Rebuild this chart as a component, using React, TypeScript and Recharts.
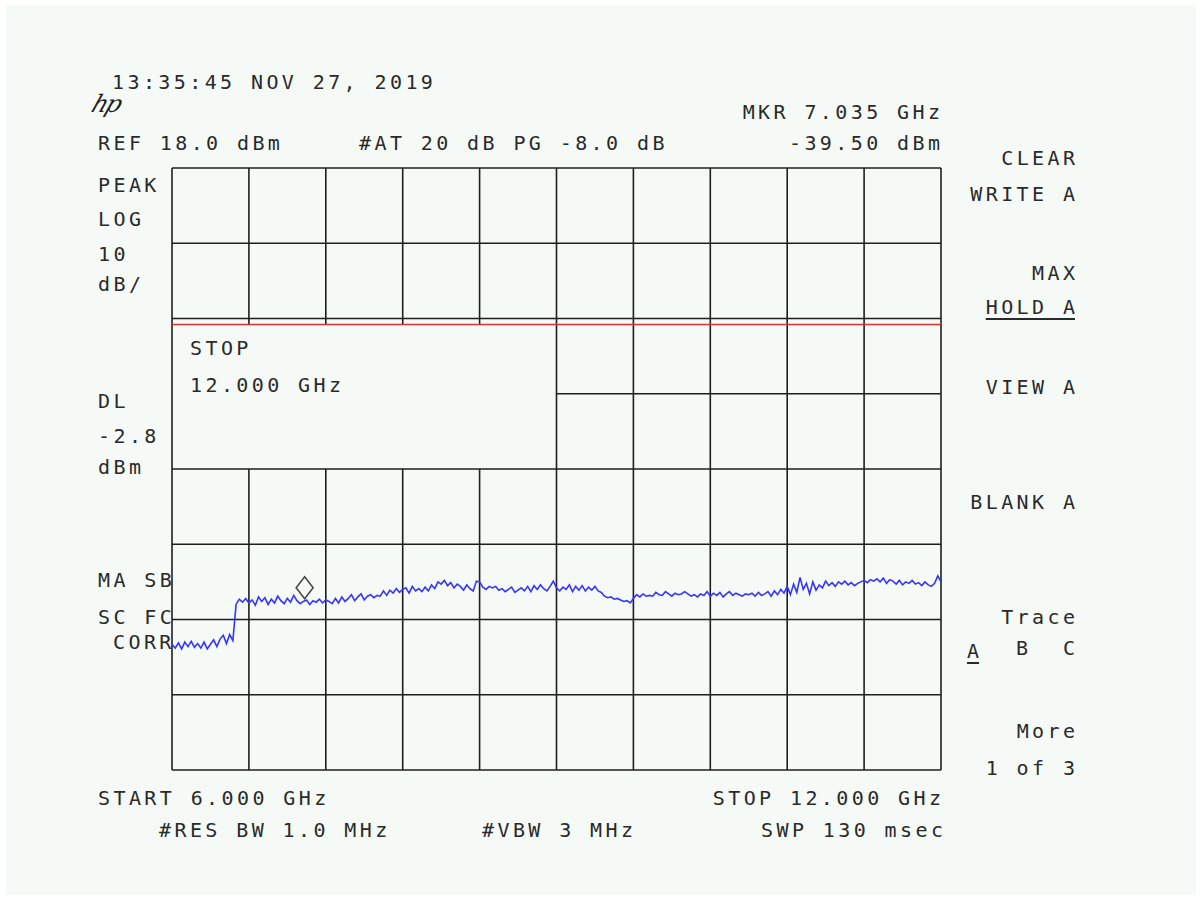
import React from 'react';
import { LineChart, Line, XAxis, YAxis, ReferenceLine, ReferenceDot } from 'recharts';

// Sweep settings
const START_GHZ = 6.0;
const STOP_GHZ = 12.0;
const STEP_GHZ = 0.025;
const REF_DBM = 18.0;
const BOTTOM_DBM = -62.0;
const DISPLAY_LINE_DBM = -2.8;
const MARKER_GHZ = 7.035;
const MARKER_DBM = -39.5;

// Grid divisions (10 x 8)
const xGrid = [6.0, 6.6, 7.2, 7.8, 8.4, 9.0, 9.6, 10.2, 10.8, 11.4, 12.0];
const yGrid = [18, 8, -2, -12, -22, -32, -42, -52, -62];

// Trace A (dBm), one value per sweep step from 6.000 GHz to 12.000 GHz
const traceA = [
  -45.3, -45.8, -45.1, -45.9, -45.0, -45.6, -44.9, -45.7, -45.2, -45.8,
  -45.0, -45.9, -45.3, -44.7, -45.6, -44.6, -44.1, -45.2, -44.0, -44.8,
  -40.0, -39.3, -39.7, -39.2, -39.8, -39.4, -40.1, -39.0, -39.6, -39.1,
  -40.0, -39.3, -39.8, -38.9, -39.5, -39.9, -39.2, -39.7, -38.8, -39.5,
  -39.9, -39.6, -39.4, -40.0, -39.5, -39.7, -39.3, -39.8, -39.4, -39.6,
  -39.9, -39.2, -39.8, -39.0, -39.6, -39.2, -38.7, -39.5, -39.0, -38.6,
  -39.4, -38.9, -38.7, -39.1, -38.8, -38.9, -38.2, -38.8, -38.1, -38.5,
  -37.9, -38.4, -38.0, -37.8, -38.5, -37.6, -38.2, -37.9, -38.3, -37.7,
  -38.2, -37.4, -37.9, -37.0, -37.3, -36.8, -37.5, -37.1, -37.8, -37.3,
  -37.6, -38.1, -37.4, -37.9, -38.2, -36.9, -37.0, -37.7, -38.0, -37.6,
  -37.8, -37.6, -38.1, -37.9, -38.3, -38.0, -37.7, -38.4, -38.1, -37.8,
  -38.2, -37.6, -38.3, -37.5, -38.0, -37.4, -37.9, -38.2, -37.6, -36.9,
  -37.8, -38.2, -37.7, -38.0, -37.4, -38.3, -37.6, -38.1, -37.5, -38.2,
  -37.7, -38.1, -37.6, -38.2, -38.4, -38.9, -39.1, -39.0, -39.3, -39.2,
  -39.4, -39.6, -39.5, -39.8, -39.2, -38.7, -39.0, -38.6, -38.9, -38.8,
  -38.9, -38.4, -38.7, -38.8, -38.3, -38.6, -38.9, -38.5, -38.7, -38.6,
  -38.3, -38.6, -38.9, -38.7, -39.0, -38.6, -38.8, -38.3, -38.9, -38.5,
  -38.8, -38.4, -39.0, -38.6, -38.3, -38.8, -38.5, -38.7, -38.9, -38.6,
  -38.7, -38.5, -38.9, -38.4, -38.8, -38.6, -38.3, -38.9, -38.2, -38.7,
  -38.0, -38.5, -37.6, -38.7, -37.3, -38.4, -36.4, -38.0, -37.2, -38.6,
  -37.0, -38.1, -37.4, -37.8, -36.9, -37.5, -37.1, -37.6, -37.0, -37.3,
  -36.9, -37.4, -37.1, -37.5, -37.2, -37.0, -36.8, -37.1, -36.7, -36.9,
  -36.6, -37.0, -36.5, -37.2, -36.7, -36.9, -37.3, -36.8, -37.4, -37.0,
  -37.2, -36.8, -37.3, -37.1, -37.5, -37.0, -37.4, -37.6, -37.2, -36.2,
  -37.0,
];

const data = traceA.map((v, i) => ({ f: +(START_GHZ + i * STEP_GHZ).toFixed(3), dbm: v }));

const BG = '#f5faf6';
const INK = '#1e1e1e';
const TXT = '#2a2a2a';
const FONT = '"DejaVu Sans Mono", "Liberation Mono", monospace';
const LS = 3.4;

type T = { text: string; x: number; y: number; align?: 'left' | 'right'; underline?: boolean };

const labels: T[] = [
  { text: '13:35:45 NOV 27, 2019', x: 113, y: 82 },
  { text: 'REF 18.0 dBm', x: 99, y: 143 },
  { text: '#AT 20 dB PG -8.0 dB', x: 360, y: 143 },
  { text: 'MKR 7.035 GHz', x: 940, y: 112, align: 'right' },
  { text: '-39.50 dBm', x: 940, y: 143, align: 'right' },
  { text: 'PEAK', x: 99, y: 185 },
  { text: 'LOG', x: 99, y: 219 },
  { text: '10', x: 99, y: 254 },
  { text: 'dB/', x: 99, y: 284 },
  { text: 'DL', x: 99, y: 401 },
  { text: '-2.8', x: 99, y: 436 },
  { text: 'dBm', x: 99, y: 467 },
  { text: 'STOP', x: 191, y: 348 },
  { text: '12.000 GHz', x: 191, y: 385 },
  { text: 'MA SB', x: 99, y: 580 },
  { text: 'SC FC', x: 99, y: 617 },
  { text: 'CORR', x: 114, y: 642 },
  { text: 'CLEAR', x: 1075, y: 158, align: 'right' },
  { text: 'WRITE A', x: 1075, y: 194, align: 'right' },
  { text: 'MAX', x: 1075, y: 273, align: 'right' },
  { text: 'HOLD A', x: 1075, y: 307, align: 'right', underline: true },
  { text: 'VIEW A', x: 1075, y: 387, align: 'right' },
  { text: 'BLANK A', x: 1075, y: 502, align: 'right' },
  { text: 'Trace', x: 1075, y: 617, align: 'right' },
  { text: 'A', x: 968, y: 651, underline: true },
  { text: 'B', x: 1017, y: 648 },
  { text: 'C', x: 1075, y: 648, align: 'right' },
  { text: 'More', x: 1075, y: 731, align: 'right' },
  { text: '1 of 3', x: 1075, y: 768, align: 'right' },
  { text: 'START 6.000 GHz', x: 99, y: 798 },
  { text: 'STOP 12.000 GHz', x: 941, y: 798, align: 'right' },
  { text: '#RES BW 1.0 MHz', x: 160, y: 830 },
  { text: '#VBW 3 MHz', x: 483, y: 830 },
  { text: 'SWP 130 msec', x: 943, y: 830, align: 'right' },
];

const Diamond = (props: any) => {
  const { cx, cy } = props;
  if (cx == null || cy == null) return null;
  const b = cy - 2;
  const pts = `${cx},${b - 22} ${cx + 8.5},${b - 11} ${cx},${b} ${cx - 8.5},${b - 11}`;
  return <polygon points={pts} fill="none" stroke="#444" strokeWidth={1.5} />;
};

const boxLeftCols = [6.6, 7.2, 7.8, 8.4];

export default function App() {
  const gridStroke = INK;
  const gw = 1.6;
  return (
    <div style={{ position: 'absolute', left: 0, top: 0, width: 1202, height: 900, background: '#ffffff', overflow: 'hidden' }}>
      <div style={{ position: 'absolute', left: 6, top: 5, width: 1190, height: 890, background: BG }} />
      <div style={{ position: 'absolute', left: 0, top: 0 }}>
        <LineChart width={1202} height={900} data={data} margin={{ top: 168, left: 172, right: 261, bottom: 130 }}>
          <XAxis dataKey="f" type="number" domain={[START_GHZ, STOP_GHZ]} hide />
          <YAxis type="number" domain={[BOTTOM_DBM, REF_DBM]} hide />
          {xGrid.filter((x) => !boxLeftCols.includes(x)).map((x) => (
            <ReferenceLine key={'vx' + x} x={x} stroke={gridStroke} strokeWidth={gw} />
          ))}
          {boxLeftCols.map((x) => (
            <ReferenceLine key={'va' + x} segment={[{ x, y: REF_DBM }, { x, y: DISPLAY_LINE_DBM }]} stroke={gridStroke} strokeWidth={gw} />
          ))}
          {boxLeftCols.map((x) => (
            <ReferenceLine key={'vb' + x} segment={[{ x, y: -22 }, { x, y: BOTTOM_DBM }]} stroke={gridStroke} strokeWidth={gw} />
          ))}
          {yGrid.filter((y) => y !== -12).map((y) => (
            <ReferenceLine key={'hy' + y} y={y} stroke={gridStroke} strokeWidth={gw} />
          ))}
          <ReferenceLine segment={[{ x: 9.0, y: -12 }, { x: STOP_GHZ, y: -12 }]} stroke={gridStroke} strokeWidth={gw} />
          <ReferenceLine y={DISPLAY_LINE_DBM} stroke="#e03434" strokeWidth={1.5} />
          <Line
            type="linear"
            dataKey="dbm"
            stroke="#3535ff"
            strokeWidth={1.6}
            dot={false}
            isAnimationActive={false}
          />
          <ReferenceDot x={MARKER_GHZ} y={MARKER_DBM} r={8} shape={Diamond} />
        </LineChart>
      </div>
      <div
        style={{
          position: 'absolute',
          left: 93,
          top: 90,
          fontFamily: '"DejaVu Serif", serif',
          fontStyle: 'italic',
          fontSize: 24,
          lineHeight: '28px',
          color: INK,
          transform: 'skewX(-20deg)',
          letterSpacing: -2,
        }}
      >
        hp
      </div>
      {labels.map((l, i) => {
        const style: React.CSSProperties = {
          position: 'absolute',
          top: l.y - 12,
          height: 24,
          lineHeight: '24px',
          fontFamily: FONT,
          fontSize: 20,
          letterSpacing: LS,
          color: TXT,
          whiteSpace: 'pre',
          textDecoration: l.underline ? 'underline' : 'none',
          textUnderlineOffset: 4,
          textDecorationThickness: 2,
        };
        if (l.align === 'right') style.right = 1202 - l.x;
        else style.left = l.x - 1;
        const head = l.text.slice(0, -1);
        const tail = l.text.slice(-1);
        return (
          <div key={i} style={style}>
            {head}
            <span style={{ letterSpacing: 0 }}>{tail}</span>
          </div>
        );
      })}
    </div>
  );
}
